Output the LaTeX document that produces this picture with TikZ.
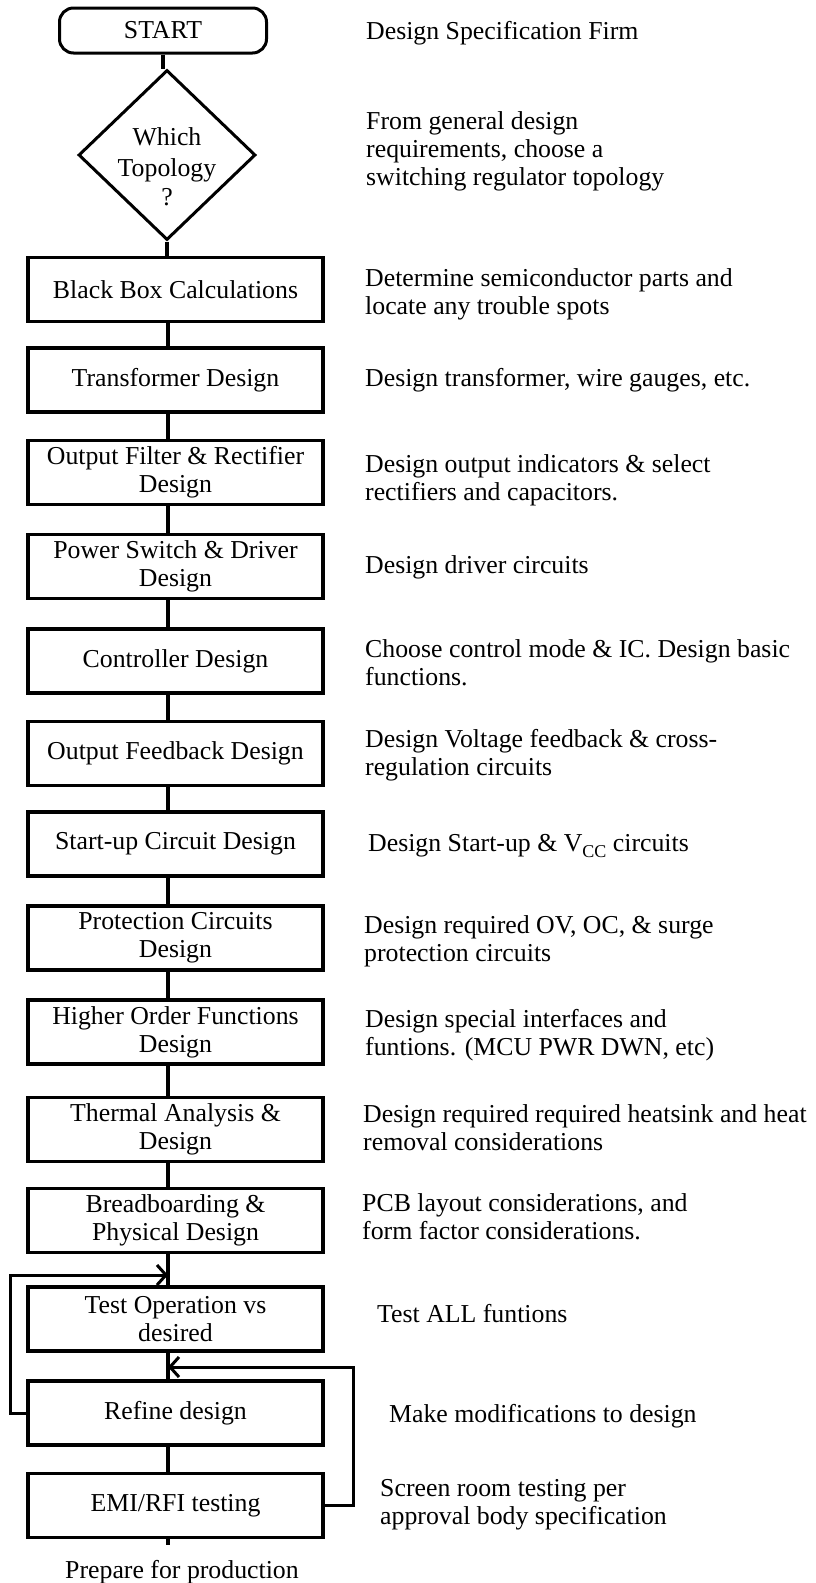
\documentclass[tikz,border=0pt]{standalone}
\usepackage{fontspec}
\setmainfont{Liberation Serif}
\usetikzlibrary{arrows.meta,shapes.geometric}
\begin{document}
\begin{tikzpicture}[x=1pt,y=-1pt,
  font=\fontsize{25.8}{28}\selectfont,
  stepbox/.style={draw,line width=3.5pt,minimum width=295pt,minimum height=64pt,inner sep=0pt,align=center,font=\fontsize{25.8}{27.7}\selectfont},
  conn/.style={line width=3.5pt},
  fb/.style={line width=3pt,-{Straight Barb[length=9pt,width=20pt]}},
  desc/.style={anchor=north west,inner sep=0pt,align=left}
]
\useasboundingbox (0,0) rectangle (816,1583);
\coordinate (col) at (168,0);

% flow nodes
\node[draw,line width=3pt,rounded corners=14pt,minimum width=207pt,minimum height=45pt,inner sep=0pt] (start) at (163,30.5) {START};
\node[draw,diamond,line width=3pt,minimum width=177pt,minimum height=170pt,inner sep=0pt] (topo) at (167,155) {};
\node[align=center,inner sep=0pt] (topotxt) at (167,167) {Which\\[3pt]Topology\\[1pt]?};

\node[stepbox] (bb)  at (175.5,289.5) {Black Box Calculations};
\node[stepbox] (tr)  at (175.5,380)   {Transformer Design};
\node[stepbox] (of)  at (175.5,472.5) {Output Filter \& Rectifier\\Design};
\node[stepbox] (ps)  at (175.5,566.5) {Power Switch \& Driver\\Design};
\node[stepbox] (ct)  at (175.5,661)   {Controller Design};
\node[stepbox] (fbd) at (175.5,753.5) {Output Feedback Design};
\node[stepbox] (su)  at (175.5,844)   {Start-up Circuit Design};
\node[stepbox] (pr)  at (175.5,938)   {Protection Circuits\\Design};
\node[stepbox] (ho)  at (175.5,1032)  {Higher Order Functions\\Design};
\node[stepbox] (th)  at (175.5,1129.5){Thermal Analysis \&\\Design};
\node[stepbox] (br)  at (175.5,1220.5){Breadboarding \&\\Physical Design};
\node[stepbox] (to)  at (175.5,1319)  {Test Operation vs\\desired};
\node[stepbox] (rf)  at (175.5,1413)  {Refine design};
\node[stepbox] (emi) at (175.5,1505.5){EMI/RFI testing};
\node[anchor=base,inner sep=0pt] (prep) at (182,1578) {Prepare for production};

% connectors
\draw[conn] (start.south) -- (start.south |- topo.north);
\draw[conn] (topo.south) -- (topo.south |- bb.north);
\foreach \a/\b in {bb/tr,tr/of,of/ps,ps/ct,ct/fbd,fbd/su,su/pr,pr/ho,ho/th,th/br,br/to,to/rf,rf/emi}
  \draw[conn] (col |- \a.south) -- (col |- \b.north);
\coordinate (tail) at (168,1545);
\draw[conn] (col |- emi.south) -- (tail);

% feedback loops
\coordinate (lcorner) at (10,1275);
\coordinate (ltip) at (168,1275);
\draw[fb] (rf.west) -| (lcorner) -- (ltip);
\coordinate (rcorner) at (353,1367);
\coordinate (rtip) at (168,1367);
\draw[fb] (emi.east) -| (rcorner) -- (rtip);

% descriptions (north = first baseline - 18)
\node[desc] (d1)  at (366,21)     {Design Specification Firm};
\node[desc] (d2)  at (366,111)    {From general design\\requirements, choose a\\switching regulator topology};
\node[desc] (d3)  at (365,268)    {Determine semiconductor parts and\\locate any trouble spots};
\node[desc] (d4)  at (365,368)    {Design transformer, wire gauges, etc.};
\node[desc] (d5)  at (365,454)    {Design output indicators \& select\\rectifiers and capacitors.};
\node[desc] (d6)  at (365,555.5)  {Design driver circuits};
\node[desc] (d7)  at (365,639)    {Choose control mode \& IC. Design basic\\functions.};
\node[desc] (d8)  at (365,729.5)  {Design Voltage feedback \& cross-\\regulation circuits};
\node[desc] (d9)  at (368,834.5)  {Design Start-up \& V\raisebox{-0.22em}{\fontsize{18}{18}\selectfont CC} circuits};
\node[desc] (d10) at (364,915)    {Design required OV, OC, \& surge\\protection circuits};
\node[desc] (d11) at (365,1009.5) {Design special interfaces and\\funtions. (MCU PWR DWN, etc)};
\node[desc] (d12) at (363,1104.5) {Design required required heatsink and heat\\removal considerations};
\node[desc] (d13) at (362,1193)   {PCB layout considerations, and\\form factor considerations.};
\node[desc] (d14) at (377,1304)   {Test ALL funtions};
\node[desc] (d15) at (389,1404)   {Make modifications to design};
\node[desc] (d16) at (380,1479)   {Screen room testing per\\approval body specification};
\end{tikzpicture}
\end{document}
